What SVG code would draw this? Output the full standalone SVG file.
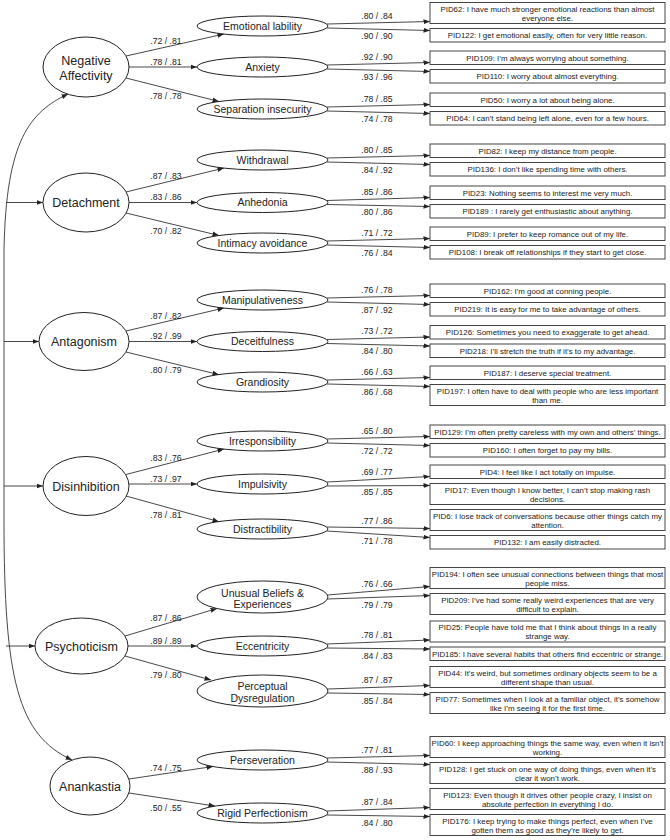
<svg xmlns="http://www.w3.org/2000/svg" width="670" height="840" viewBox="0 0 670 840">
<style>
text{font-family:"Liberation Sans",Arial,Helvetica,sans-serif;fill:#222;text-anchor:middle}
.dom{fill:#fff;stroke:#222;stroke-width:1}
.fac{fill:#fff;stroke:#222;stroke-width:1}
.box{fill:#fff;stroke:#444;stroke-width:1}
.td{font-size:12.5px}
.tf{font-size:10.5px}
.tc{font-size:8.7px}
.ti{font-size:7.9px}
.ln{stroke:#333;stroke-width:0.9;fill:none;marker-end:url(#ah)}
.sp{stroke:#333;stroke-width:0.9;fill:none;marker-start:url(#ah);marker-end:url(#ah)}
</style>
<defs>
<marker id="ah" viewBox="0 0 10 10" refX="10" refY="5" markerWidth="6.5" markerHeight="6.5" markerUnits="userSpaceOnUse" orient="auto-start-reverse"><path d="M0,1.2 L10,5 L0,8.8 z" fill="#222"/></marker>
</defs>
<rect width="670" height="840" fill="#fff"/>

<g id="connectors">
<path class="sp" d="M68,94 C30,112 6,140 4,250 L4,520 C4,680 18,735 72,760"/>
<line class="ln" x1="6" y1="202.5" x2="43" y2="202.5"/>
<line class="ln" x1="4" y1="341.5" x2="39" y2="341.5"/>
<line class="ln" x1="4" y1="486" x2="43" y2="486"/>
<line class="ln" x1="6" y1="646" x2="35" y2="646"/>

<line class="ln" x1="126" y1="56" x2="224" y2="34"/>
<line class="ln" x1="129" y1="67" x2="197" y2="67"/>
<line class="ln" x1="126" y1="78" x2="219" y2="101.5"/>
<text class="tc" x="166" y="44">.72 / .81</text>
<text class="tc" x="166" y="64.5">.78 / .81</text>
<text class="tc" x="166" y="99">.78 / .78</text>

<line class="ln" x1="126" y1="192" x2="224" y2="168"/>
<line class="ln" x1="129" y1="202.5" x2="197" y2="202.5"/>
<line class="ln" x1="126" y1="213" x2="219" y2="235.5"/>
<text class="tc" x="166" y="179.2">.87 / .83</text>
<text class="tc" x="166" y="200">.83 / .86</text>
<text class="tc" x="166" y="233.7">.70 / .82</text>

<line class="ln" x1="126" y1="331" x2="224" y2="308"/>
<line class="ln" x1="129" y1="341.5" x2="197" y2="341.5"/>
<line class="ln" x1="126" y1="352" x2="219" y2="374.7"/>
<text class="tc" x="166" y="318.6">.87 / .82</text>
<text class="tc" x="166" y="339">.92 / .99</text>
<text class="tc" x="166" y="372.8">.80 / .79</text>

<line class="ln" x1="126" y1="474.5" x2="224" y2="449"/>
<line class="ln" x1="129" y1="484" x2="197" y2="484"/>
<line class="ln" x1="126" y1="496" x2="219" y2="521.7"/>
<text class="tc" x="166" y="460.5">.83 / .76</text>
<text class="tc" x="166" y="481.5">.73 / .97</text>
<text class="tc" x="166" y="518">.78 / .81</text>

<line class="ln" x1="125" y1="636" x2="217" y2="608.5"/>
<line class="ln" x1="128" y1="646" x2="197" y2="646"/>
<line class="ln" x1="125" y1="656" x2="211" y2="680"/>
<text class="tc" x="166" y="620.7">.87 / .86</text>
<text class="tc" x="166" y="643.5">.89 / .89</text>
<text class="tc" x="166" y="678.4">.79 / .80</text>

<line class="ln" x1="129" y1="779" x2="213" y2="766.5"/>
<line class="ln" x1="129" y1="793" x2="215" y2="806"/>
<text class="tc" x="166" y="770.5">.74 / .75</text>
<text class="tc" x="166" y="810.6">.50 / .55</text>

<line class="ln" x1="327" y1="24" x2="430" y2="21.5"/>
<line class="ln" x1="327" y1="28" x2="430" y2="30.5"/>
<text class="tc" x="377" y="18.8">.80 / .84</text>
<text class="tc" x="377" y="38.7">.90 / .90</text>
<line class="ln" x1="327" y1="65" x2="430" y2="62.5"/>
<line class="ln" x1="327" y1="69" x2="430" y2="71.5"/>
<text class="tc" x="377" y="59.8">.92 / .90</text>
<text class="tc" x="377" y="79.7">.93 / .96</text>
<line class="ln" x1="327" y1="107" x2="430" y2="104.5"/>
<line class="ln" x1="327" y1="111" x2="430" y2="113.5"/>
<text class="tc" x="377" y="101.8">.78 / .85</text>
<text class="tc" x="377" y="121.7">.74 / .78</text>

<line class="ln" x1="327" y1="158" x2="430" y2="155.5"/>
<line class="ln" x1="327" y1="162" x2="430" y2="164.5"/>
<text class="tc" x="377" y="152.8">.80 / .85</text>
<text class="tc" x="377" y="172.7">.84 / .92</text>
<line class="ln" x1="327" y1="200.5" x2="430" y2="197.5"/>
<line class="ln" x1="327" y1="204.5" x2="430" y2="206.5"/>
<text class="tc" x="377" y="195">.85 / .86</text>
<text class="tc" x="377" y="215">.80 / .86</text>
<line class="ln" x1="327" y1="241" x2="430" y2="238.5"/>
<line class="ln" x1="327" y1="245" x2="430" y2="247.5"/>
<text class="tc" x="377" y="235.8">.71 / .72</text>
<text class="tc" x="377" y="255.7">.76 / .84</text>

<line class="ln" x1="327" y1="298" x2="430" y2="295.5"/>
<line class="ln" x1="327" y1="302" x2="430" y2="304.5"/>
<text class="tc" x="377" y="292.8">.76 / .78</text>
<text class="tc" x="377" y="312.7">.87 / .92</text>
<line class="ln" x1="327" y1="339.5" x2="430" y2="337"/>
<line class="ln" x1="327" y1="343.5" x2="430" y2="346"/>
<text class="tc" x="377" y="334.3">.73 / .72</text>
<text class="tc" x="377" y="354.2">.84 / .80</text>
<line class="ln" x1="327" y1="380" x2="430" y2="377.5"/>
<line class="ln" x1="327" y1="384" x2="430" y2="386.5"/>
<text class="tc" x="377" y="374.8">.66 / .63</text>
<text class="tc" x="377" y="394.7">.86 / .68</text>

<line class="ln" x1="327" y1="439" x2="430" y2="436.5"/>
<line class="ln" x1="327" y1="443" x2="430" y2="445.5"/>
<text class="tc" x="377" y="433.8">.65 / .80</text>
<text class="tc" x="377" y="453.7">.72 / .72</text>
<line class="ln" x1="327" y1="482" x2="430" y2="476.5"/>
<line class="ln" x1="327" y1="486" x2="430" y2="485.5"/>
<text class="tc" x="377" y="475.3">.69 / .77</text>
<text class="tc" x="377" y="495.3">.85 / .85</text>
<line class="ln" x1="327" y1="527" x2="430" y2="528.5"/>
<line class="ln" x1="327" y1="531" x2="430" y2="537.5"/>
<text class="tc" x="377" y="523.7">.77 / .86</text>
<text class="tc" x="377" y="543.7">.71 / .78</text>

<line class="ln" x1="327.5" y1="595" x2="430" y2="586.5"/>
<line class="ln" x1="327.5" y1="599" x2="430" y2="595.5"/>
<text class="tc" x="377" y="586.9">.76 / .66</text>
<text class="tc" x="377" y="607.5">.79 / .79</text>
<line class="ln" x1="327" y1="644" x2="430" y2="640"/>
<line class="ln" x1="327" y1="648" x2="430" y2="649"/>
<text class="tc" x="377" y="638.1">.78 / .81</text>
<text class="tc" x="377" y="659">.84 / .83</text>
<line class="ln" x1="327.5" y1="689" x2="430" y2="685.5"/>
<line class="ln" x1="327.5" y1="693" x2="430" y2="694.5"/>
<text class="tc" x="377" y="683.3">.87 / .87</text>
<text class="tc" x="377" y="703.5">.85 / .84</text>

<line class="ln" x1="327" y1="758" x2="430" y2="755.5"/>
<line class="ln" x1="327" y1="762" x2="430" y2="764.5"/>
<text class="tc" x="377" y="752.8">.77 / .81</text>
<text class="tc" x="377" y="772.7">.88 / .93</text>
<line class="ln" x1="327" y1="811" x2="430" y2="807.5"/>
<line class="ln" x1="327" y1="815" x2="430" y2="816.5"/>
<text class="tc" x="377" y="805.3">.87 / .84</text>
<text class="tc" x="377" y="825.5">.84 / .80</text>
</g>

<g id="negative-affectivity"><ellipse class="dom" cx="86" cy="67" rx="43" ry="30"/><text class="td" x="86" y="65">Negative</text><text class="td" x="86" y="79.5">Affectivity</text></g>
<g id="detachment"><ellipse class="dom" cx="86" cy="202.5" rx="43" ry="29.5"/><text class="td" x="86" y="207">Detachment</text></g>
<g id="antagonism"><ellipse class="dom" cx="84" cy="341.5" rx="45" ry="29"/><text class="td" x="84" y="346">Antagonism</text></g>
<g id="disinhibition"><ellipse class="dom" cx="86" cy="486" rx="43" ry="29.5"/><text class="td" x="86" y="490.5">Disinhibition</text></g>
<g id="psychoticism"><ellipse class="dom" cx="81.5" cy="646" rx="46.5" ry="28"/><text class="td" x="81.5" y="650.5">Psychoticism</text></g>
<g id="anankastia"><ellipse class="dom" cx="90" cy="786" rx="40" ry="29"/><text class="td" x="90" y="790.5">Anankastia</text></g>

<g id="emotional-lability"><ellipse class="fac" cx="262.5" cy="26" rx="65.5" ry="10"/><text class="tf" x="262.5" y="29.7">Emotional lability</text></g>
<g id="anxiety"><ellipse class="fac" cx="262.5" cy="67" rx="65.5" ry="10"/><text class="tf" x="262.5" y="70.7">Anxiety</text></g>
<g id="separation-insecurity"><ellipse class="fac" cx="262.5" cy="109" rx="65.5" ry="10"/><text class="tf" x="262.5" y="112.7">Separation insecurity</text></g>
<g id="withdrawal"><ellipse class="fac" cx="262.5" cy="160" rx="65.5" ry="10"/><text class="tf" x="262.5" y="163.7">Withdrawal</text></g>
<g id="anhedonia"><ellipse class="fac" cx="262.5" cy="202.5" rx="65.5" ry="10"/><text class="tf" x="262.5" y="206.2">Anhedonia</text></g>
<g id="intimacy-avoidance"><ellipse class="fac" cx="262.5" cy="243" rx="65.5" ry="10"/><text class="tf" x="262.5" y="246.7">Intimacy avoidance</text></g>
<g id="manipulativeness"><ellipse class="fac" cx="262.5" cy="300" rx="65.5" ry="10"/><text class="tf" x="262.5" y="303.7">Manipulativeness</text></g>
<g id="deceitfulness"><ellipse class="fac" cx="262.5" cy="341.5" rx="65.5" ry="10"/><text class="tf" x="262.5" y="345.2">Deceitfulness</text></g>
<g id="grandiosity"><ellipse class="fac" cx="262.5" cy="382" rx="65.5" ry="10"/><text class="tf" x="262.5" y="385.7">Grandiosity</text></g>
<g id="irresponsibility"><ellipse class="fac" cx="262.5" cy="441" rx="65.5" ry="10"/><text class="tf" x="262.5" y="444.7">Irresponsibility</text></g>
<g id="impulsivity"><ellipse class="fac" cx="262.5" cy="484" rx="65.5" ry="10"/><text class="tf" x="262.5" y="487.7">Impulsivity</text></g>
<g id="distractibility"><ellipse class="fac" cx="262.5" cy="529" rx="65.5" ry="10"/><text class="tf" x="262.5" y="532.7">Distractibility</text></g>
<g id="unusual-beliefs"><ellipse class="fac" cx="262.5" cy="597" rx="65.5" ry="16"/><text class="tf" x="262.5" y="596.5">Unusual Beliefs &amp;</text><text class="tf" x="262.5" y="608">Experiences</text></g>
<g id="eccentricity"><ellipse class="fac" cx="262.5" cy="646" rx="65.5" ry="10"/><text class="tf" x="262.5" y="649.7">Eccentricity</text></g>
<g id="perceptual-dysregulation"><ellipse class="fac" cx="262.5" cy="691" rx="65.5" ry="16"/><text class="tf" x="262.5" y="690">Perceptual</text><text class="tf" x="262.5" y="701.5">Dysregulation</text></g>
<g id="perseveration"><ellipse class="fac" cx="262.5" cy="760" rx="65.5" ry="10"/><text class="tf" x="262.5" y="763.7">Perseveration</text></g>
<g id="rigid-perfectionism"><ellipse class="fac" cx="262.5" cy="813" rx="65.5" ry="10"/><text class="tf" x="262.5" y="816.7">Rigid Perfectionism</text></g>

<g id="pid62"><rect class="box" x="430" y="2.5" width="235" height="21"/><text class="ti" x="547.5" y="11.5">PID62: I have much stronger emotional reactions than almost</text><text class="ti" x="547.5" y="20.5">everyone else.</text></g>
<g id="pid122"><rect class="box" x="430" y="28.5" width="235" height="13.5"/><text class="ti" x="547.5" y="38.1">PID122: I get emotional easily, often for very little reason.</text></g>
<g id="pid109"><rect class="box" x="430" y="51" width="235" height="13.5"/><text class="ti" x="547.5" y="60.6">PID109: I’m always worrying about something.</text></g>
<g id="pid110"><rect class="box" x="430" y="69.5" width="235" height="13.5"/><text class="ti" x="547.5" y="79.1">PID110: I worry about almost everything.</text></g>
<g id="pid50"><rect class="box" x="430" y="93" width="235" height="13.5"/><text class="ti" x="547.5" y="102.6">PID50: I worry a lot about being alone.</text></g>
<g id="pid64"><rect class="box" x="430" y="111.5" width="235" height="13.5"/><text class="ti" x="547.5" y="121.1">PID64: I can’t stand being left alone, even for a few hours.</text></g>

<g id="pid82"><rect class="box" x="430" y="144" width="235" height="13.5"/><text class="ti" x="547.5" y="153.6">PID82: I keep my distance from people.</text></g>
<g id="pid136"><rect class="box" x="430" y="162.5" width="235" height="13.5"/><text class="ti" x="547.5" y="172.1">PID136: I don’t like spending time with others.</text></g>
<g id="pid23"><rect class="box" x="430" y="186" width="235" height="13.5"/><text class="ti" x="547.5" y="195.6">PID23: Nothing seems to interest me very much.</text></g>
<g id="pid189"><rect class="box" x="430" y="204.5" width="235" height="13.5"/><text class="ti" x="547.5" y="214.1">PID189 : I rarely get enthusiastic about anything.</text></g>
<g id="pid89"><rect class="box" x="430" y="227" width="235" height="13.5"/><text class="ti" x="547.5" y="236.6">PID89: I prefer to keep romance out of my life.</text></g>
<g id="pid108"><rect class="box" x="430" y="245.5" width="235" height="13.5"/><text class="ti" x="547.5" y="255.1">PID108: I break off relationships if they start to get close.</text></g>

<g id="pid162"><rect class="box" x="430" y="284" width="235" height="13.5"/><text class="ti" x="547.5" y="293.6">PID162: I’m good at conning people.</text></g>
<g id="pid219"><rect class="box" x="430" y="302.5" width="235" height="13.5"/><text class="ti" x="547.5" y="312.1">PID219: It is easy for me to take advantage of others.</text></g>
<g id="pid126"><rect class="box" x="430" y="325.5" width="235" height="13.5"/><text class="ti" x="547.5" y="335.1">PID126: Sometimes you need to exaggerate to get ahead.</text></g>
<g id="pid218"><rect class="box" x="430" y="344" width="235" height="13.5"/><text class="ti" x="547.5" y="353.6">PID218: I’ll stretch the truth if it’s to my advantage.</text></g>
<g id="pid187"><rect class="box" x="430" y="366" width="235" height="13.5"/><text class="ti" x="547.5" y="375.6">PID187: I deserve special treatment.</text></g>
<g id="pid197"><rect class="box" x="430" y="384.5" width="235" height="21"/><text class="ti" x="547.5" y="393.5">PID197: I often have to deal with people who are less important</text><text class="ti" x="547.5" y="402.5">than me.</text></g>

<g id="pid129"><rect class="box" x="430" y="425" width="235" height="13.5"/><text class="ti" x="547.5" y="434.6">PID129: I’m often pretty careless with my own and others’ things.</text></g>
<g id="pid160"><rect class="box" x="430" y="443.5" width="235" height="13.5"/><text class="ti" x="547.5" y="453.1">PID160: I often forget to pay my bills.</text></g>
<g id="pid4"><rect class="box" x="430" y="465" width="235" height="13.5"/><text class="ti" x="547.5" y="474.6">PID4: I feel like I act totally on impulse.</text></g>
<g id="pid17"><rect class="box" x="430" y="483.5" width="235" height="21"/><text class="ti" x="547.5" y="492.5">PID17: Even though I know better, I can’t stop making rash</text><text class="ti" x="547.5" y="501.5">decisions.</text></g>
<g id="pid6"><rect class="box" x="430" y="509.5" width="235" height="21"/><text class="ti" x="547.5" y="518.5">PID6: I lose track of conversations because other things catch my</text><text class="ti" x="547.5" y="527.5">attention.</text></g>
<g id="pid132"><rect class="box" x="430" y="535.5" width="235" height="13.5"/><text class="ti" x="547.5" y="545.1">PID132: I am easily distracted.</text></g>

<g id="pid194"><rect class="box" x="430" y="567.5" width="235" height="21"/><text class="ti" x="547.5" y="576.5">PID194: I often see unusual connections between things that most</text><text class="ti" x="547.5" y="585.5">people miss.</text></g>
<g id="pid209"><rect class="box" x="430" y="593.5" width="235" height="21"/><text class="ti" x="547.5" y="602.5">PID209: I’ve had some really weird experiences that are very</text><text class="ti" x="547.5" y="611.5">difficult to explain.</text></g>
<g id="pid25"><rect class="box" x="430" y="621" width="235" height="21"/><text class="ti" x="547.5" y="630">PID25: People have told me that I think about things in a really</text><text class="ti" x="547.5" y="639">strange way.</text></g>
<g id="pid185"><rect class="box" x="430" y="647" width="235" height="13.5"/><text class="ti" x="547.5" y="656.6">PID185: I have several habits that others find eccentric or strange.</text></g>
<g id="pid44"><rect class="box" x="430" y="666.5" width="235" height="21"/><text class="ti" x="547.5" y="675.5">PID44: It’s weird, but sometimes ordinary objects seem to be a</text><text class="ti" x="547.5" y="684.5">different shape than usual.</text></g>
<g id="pid77"><rect class="box" x="430" y="692.5" width="235" height="21"/><text class="ti" x="547.5" y="701.5">PID77: Sometimes when I look at a familiar object, it’s somehow</text><text class="ti" x="547.5" y="710.5">like I’m seeing it for the first time.</text></g>

<g id="pid60"><rect class="box" x="430" y="736.5" width="235" height="21"/><text class="ti" x="547.5" y="745.5">PID60: I keep approaching things the same way, even when it isn’t</text><text class="ti" x="547.5" y="754.5">working.</text></g>
<g id="pid128"><rect class="box" x="430" y="762.5" width="235" height="21"/><text class="ti" x="547.5" y="771.5">PID128: I get stuck on one way of doing things, even when it’s</text><text class="ti" x="547.5" y="780.5">clear it won’t work.</text></g>
<g id="pid123"><rect class="box" x="430" y="788.5" width="235" height="21"/><text class="ti" x="547.5" y="797.5">PID123: Even though it drives other people crazy, I insist on</text><text class="ti" x="547.5" y="806.5">absolute perfection in everything I do.</text></g>
<g id="pid176"><rect class="box" x="430" y="814.5" width="235" height="21"/><text class="ti" x="547.5" y="823.5">PID176: I keep trying to make things perfect, even when I’ve</text><text class="ti" x="547.5" y="832.5">gotten them as good as they’re likely to get.</text></g>
</svg>
